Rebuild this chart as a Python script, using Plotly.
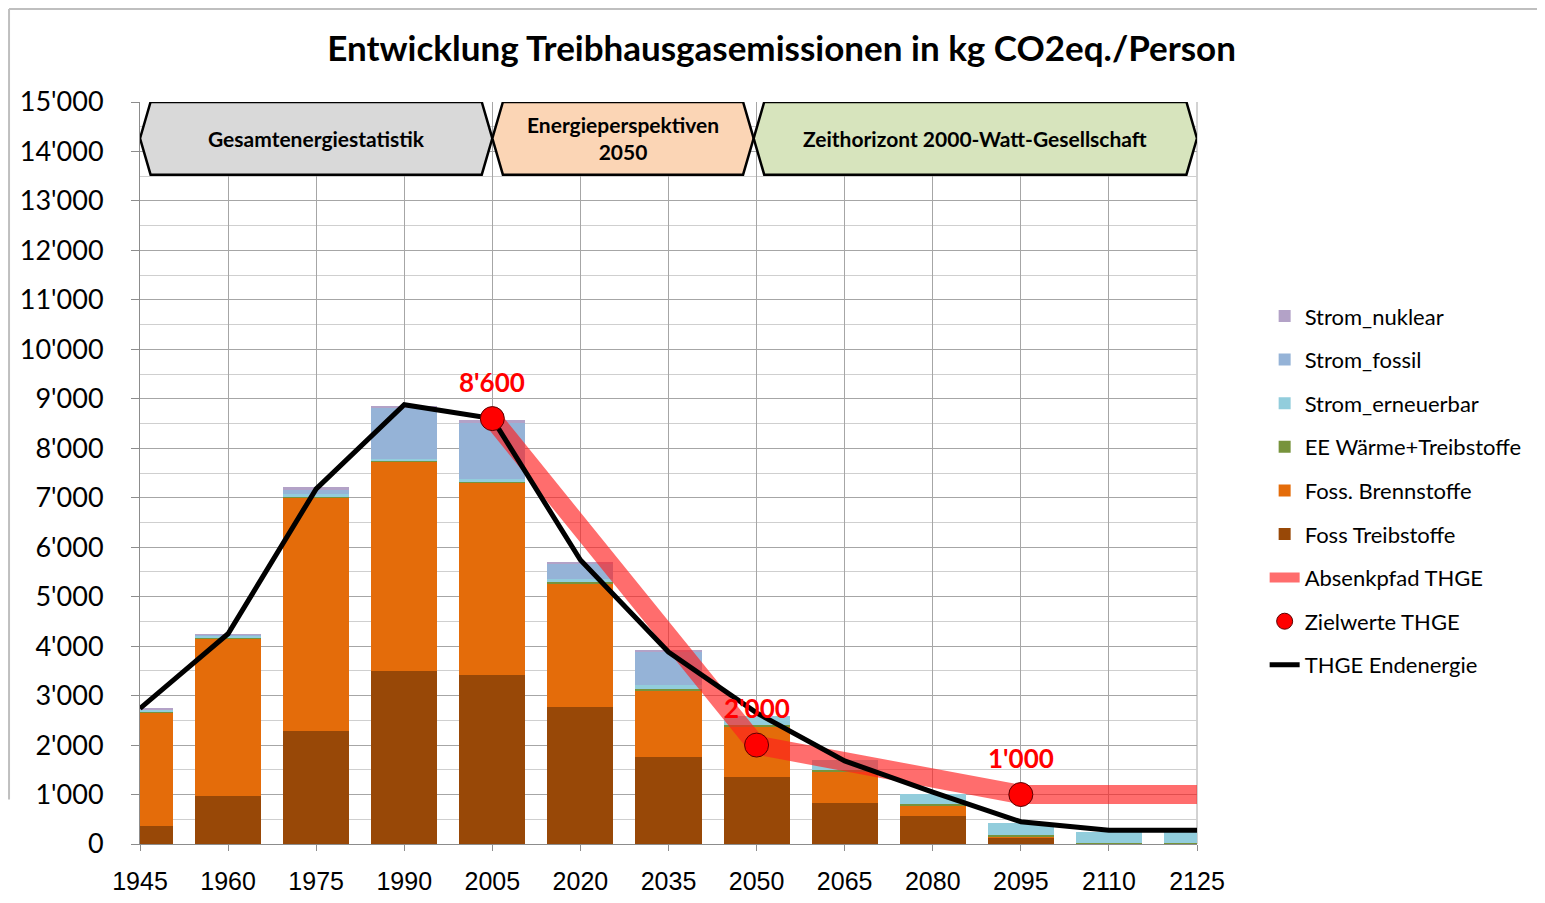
import plotly.graph_objects as go

# ---------------- data ----------------
years = [1945, 1960, 1975, 1990, 2005, 2020, 2035, 2050, 2065, 2080, 2095, 2110, 2125]
foss_treib = [370, 980, 2290, 3500, 3410, 2760, 1750, 1350, 820, 570, 130, 0, 0]
foss_brenn = [2290, 3170, 4720, 4240, 3900, 2490, 1360, 1020, 640, 200, 20, 0, 0]
ee_waerme = [20, 20, 20, 15, 20, 50, 30, 30, 30, 40, 40, 30, 30]
strom_ern = [30, 50, 40, 35, 40, 60, 70, 180, 210, 210, 240, 220, 220]
strom_foss = [10, 10, 100, 1020, 1150, 310, 680, 0, 0, 0, 0, 0, 0]
strom_nukl = [10, 10, 40, 50, 50, 40, 20, 0, 0, 0, 0, 0, 0]
thge_end = [2740, 4250, 7180, 8880, 8600, 5740, 3880, 2650, 1680, 1050, 450, 280, 280]

absenk_years = [2005, 2050, 2095, 2125]
absenk_vals = [8600, 2000, 1000, 1000]
ziel_years = [2005, 2050, 2095]
ziel_vals = [8600, 2000, 1000]

phase_labels = ["Gesamtenergiestatistik", "Energieperspektiven<br>2050",
                "Zeithorizont 2000-Watt-Gesellschaft"]
phase_start = [1945, 2005, 2049.5]
phase_end = [2005, 2049.5, 2125]
phase_colors = ["#D9D9D9", "#FBD5B5", "#D7E4BD"]
phase_top, phase_bottom = 15000, 13530

title = "Entwicklung Treibhausgasemissionen in kg CO2eq./Person"

# ---------------- figure ----------------
fig = go.Figure()
bar_w = 11.25
stack = [
    ("Foss Treibstoffe", foss_treib, "#984807", 6),
    ("Foss. Brennstoffe", foss_brenn, "#E46C0A", 5),
    ("EE Wärme+Treibstoffe", ee_waerme, "#77933C", 4),
    ("Strom_erneuerbar", strom_ern, "#92CDDC", 3),
    ("Strom_fossil", strom_foss, "#95B3D7", 2),
    ("Strom_nuklear", strom_nukl, "#B3A2C7", 1),
]
for name, vals, col, rank in stack:
    fig.add_trace(go.Bar(x=years, y=vals, name=name, width=bar_w,
                         marker=dict(color=col, line=dict(width=0)),
                         legendrank=rank, legendgroup=name))

fig.add_trace(go.Scatter(x=absenk_years, y=absenk_vals, mode="lines",
                         name="Absenkpfad THGE", legendrank=7, legendgroup="a",
                         line=dict(color="rgba(255,30,30,0.65)", width=19)))
fig.add_trace(go.Scatter(x=years, y=thge_end, mode="lines",
                         name="THGE Endenergie", legendrank=9, legendgroup="t",
                         line=dict(color="black", width=5)))
fig.add_trace(go.Scatter(x=ziel_years, y=ziel_vals, mode="markers",
                         name="Zielwerte THGE", legendrank=8, legendgroup="z",
                         marker=dict(color="#FF0000", size=24,
                                     line=dict(color="#5A0000", width=1))))

# target labels
for xv, yv in zip(ziel_years, ziel_vals):
    fig.add_annotation(x=xv, y=yv, text=f"{yv:,}".replace(",", "'"),
                       showarrow=False, yshift=37,
                       font=dict(family="Lato", size=26, color="#FF0000",
                                 weight="bold"))

# phase boxes (hexagon arrows)
notch = 1.8
for lab, x0, x1, col in zip(phase_labels, phase_start, phase_end, phase_colors):
    ym = (phase_top + phase_bottom) / 2
    path = (f"M {x0},{ym} L {x0+notch},{phase_top} L {x1-notch},{phase_top} "
            f"L {x1},{ym} L {x1-notch},{phase_bottom} L {x0+notch},{phase_bottom} Z")
    fig.add_shape(type="path", path=path, xref="x", yref="y",
                  fillcolor=col, line=dict(color="black", width=2.5), layer="above")
    fig.add_annotation(x=(x0 + x1) / 2, y=ym, text=lab, showarrow=False,
                       font=dict(family="Lato", size=21, color="black",
                                 weight="bold"))

# outer frame lines
fig.add_shape(type="line", xref="paper", yref="paper",
              x0=-0.1239, x1=1.33, y0=1.1253, y1=1.1253,
              line=dict(color="#BFBFBF", width=2))
fig.add_shape(type="line", xref="paper", yref="paper",
              x0=-0.1239, x1=-0.1239, y0=1.1253, y1=0.06,
              line=dict(color="#BFBFBF", width=2))

fig.update_layout(
    width=1537, height=895,
    margin=dict(l=132, r=348, t=94, b=59, autoexpand=False),
    paper_bgcolor="white", plot_bgcolor="white",
    barmode="stack", bargap=0,
    separators=".'",
    title=dict(text=title, x=0.607, xanchor="center", xref="paper",
               y=0.955, yanchor="middle", yref="container",
               font=dict(family="Lato", size=35, color="black", weight="bold")),
    legend=dict(x=1.064, xanchor="left", y=0.7396, yanchor="top",
                traceorder="grouped", tracegroupgap=12,
                font=dict(family="Lato", size=22, color="black"),
                bgcolor="rgba(0,0,0,0)"),
    showlegend=True,
)
fig.update_xaxes(range=[1945, 2125], tick0=1945, dtick=15, tickformat="d",
                 showgrid=True, gridcolor="#A6A6A6", gridwidth=1,
                 showline=True, linecolor="#8C8C8C", linewidth=1,
                 ticks="outside", ticklen=6, tickcolor="#8C8C8C",
                 ticklabelstandoff=9, automargin=False,
                 tickfont=dict(family="Liberation Sans", size=25, color="black"),
                 zeroline=False)
fig.update_yaxes(range=[0, 15000], dtick=1000, tickformat=",d",
                 showgrid=True, gridcolor="#A6A6A6", gridwidth=1,
                 minor=dict(dtick=500, showgrid=True, gridcolor="#CFCFCF"),
                 showline=True, linecolor="#8C8C8C", linewidth=1,
                 ticks="outside", ticklen=8, tickcolor="#8C8C8C",
                 ticklabelstandoff=22, automargin=False,
                 tickfont=dict(family="Lato", size=27, color="black"),
                 zeroline=False)
fig.add_shape(type="line", xref="paper", yref="paper", x0=1, x1=1, y0=0, y1=1,
              line=dict(color="#A6A6A6", width=1), layer="below")

fig.write_html("out.html")
